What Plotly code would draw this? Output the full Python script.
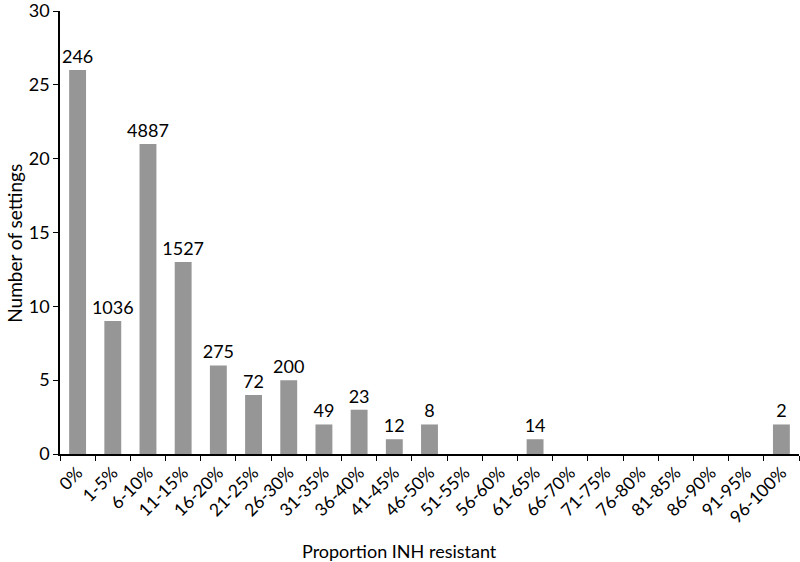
import plotly.graph_objects as go

categories = ["0%", "1-5%", "6-10%", "11-15%", "16-20%", "21-25%", "26-30%",
              "31-35%", "36-40%", "41-45%", "46-50%", "51-55%", "56-60%",
              "61-65%", "66-70%", "71-75%", "76-80%", "81-85%", "86-90%",
              "91-95%", "96-100%"]
settings = [26, 9, 21, 13, 6, 4, 5, 2, 3, 1, 2, 0, 0, 1, 0, 0, 0, 0, 0, 0, 2]
bar_labels = ["246", "1036", "4887", "1527", "275", "72", "200", "49", "23",
              "12", "8", "", "", "14", "", "", "", "", "", "", "2"]

font = "Lato, 'Open Sans', sans-serif"

fig = go.Figure(go.Bar(
    x=categories,
    y=settings,
    text=bar_labels,
    textposition="outside",
    constraintext="none",
    cliponaxis=False,
    textfont=dict(size=18, color="black", family=font),
    marker=dict(color="#969696", line_width=0),
    width=0.48,
))

fig.update_layout(
    width=800, height=562,
    margin=dict(l=60, r=1, t=11, b=108, autoexpand=False),
    plot_bgcolor="white", paper_bgcolor="white",
    font=dict(family=font, size=17, color="black"),
    showlegend=False,
)
fig.update_xaxes(
    type="category",
    showline=True, linecolor="black", linewidth=1.5,
    ticks="outside", tickson="boundaries", ticklen=5, tickcolor="black",
    tickangle=-45, tickfont=dict(size=17.5),
    automargin=False,
)
fig.update_yaxes(
    range=[0, 30], dtick=5,
    showline=True, linecolor="black", linewidth=1.5,
    ticks="outside", ticklen=5, tickcolor="black",
    showgrid=False, zeroline=False,
    tickfont=dict(size=18), ticklabeloverflow="allow",
    automargin=False,
)
fig.add_annotation(
    text="Proportion INH resistant", showarrow=False,
    xref="paper", yref="paper", x=0.46, y=-0.22,
    xanchor="center", yanchor="middle", font=dict(size=18),
)
fig.add_annotation(
    text="Number of settings", showarrow=False, textangle=-90,
    xref="paper", yref="paper", x=-0.062, y=0.475,
    xanchor="center", yanchor="middle", font=dict(size=19),
)

# drop the browser's default body margin so the figure sits at the page corner
fig.write_html("out.html", config={"displayModeBar": False},
               post_script="document.body.style.margin='0';")
